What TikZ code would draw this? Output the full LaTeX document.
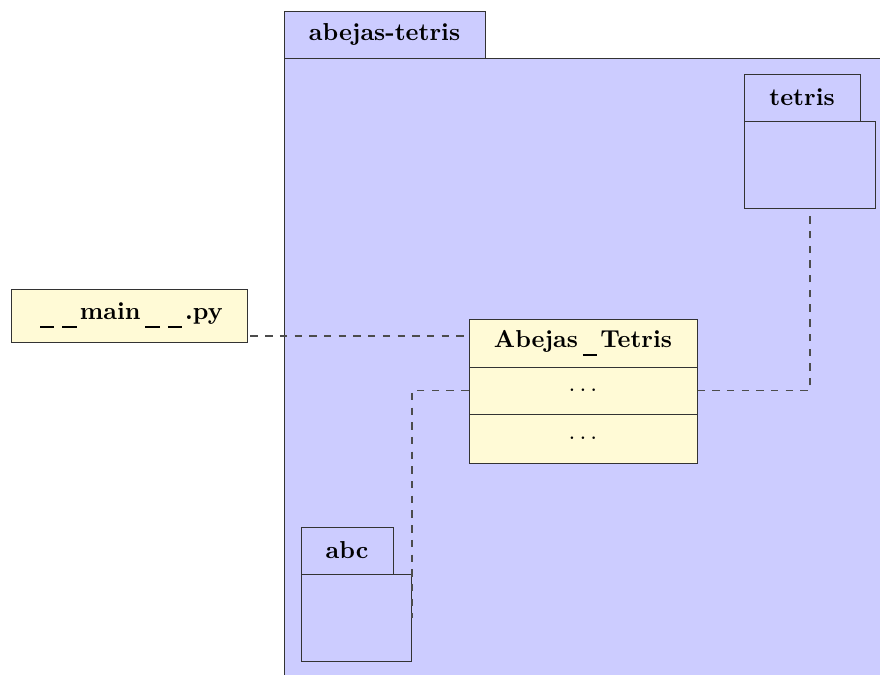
\documentclass[tikz,border=0pt]{standalone}
\usetikzlibrary{calc}
\newcommand\pxu{0.408pt}
\definecolor{classyellow}{RGB}{255,250,214}
% underscore drawn as a short low bar
\newcommand\ubar{\kern2pt\rule[-3.7pt]{5.8pt}{0.8pt}\kern1.3pt}
\tikzset{
  box/.style={draw=black!80, line width=0.4pt, rectangle, inner sep=0pt, font=\bfseries},
  pkgfill/.style={box, fill=blue!20},
  clsfill/.style={box, fill=classyellow},
  dep/.style={draw=black!70, line width=0.5pt, dashed},
}
\begin{document}
\begin{tikzpicture}[x=0.408pt, y=-0.408pt]
\useasboundingbox (0,0) rectangle (880,674);

% outer package abejas-tetris (runs past the page edge)
\node[pkgfill, anchor=north west, minimum width={640*\pxu}, minimum height={660*\pxu}] (pkgbody) at (284,58) {};
\node[pkgfill, minimum width={201*\pxu}, minimum height={47*\pxu}] (pkgtab) at (384.5,34.5) {abejas-tetris};

% sub-package tetris
\node[pkgfill, minimum width={116*\pxu}, minimum height={47*\pxu}] (tetristab) at (802,97.5) {tetris};
\node[pkgfill, anchor=north west, minimum width={131*\pxu}, minimum height={87*\pxu}] (tetrisbody) at (744,121) {};

% sub-package abc
\node[pkgfill, minimum width={92*\pxu}, minimum height={47*\pxu}] (abctab) at (347,550.5) {abc};
\node[pkgfill, anchor=north west, minimum width={110*\pxu}, minimum height={87*\pxu}] (abcbody) at (301,574) {};

% classes
\coordinate (mainout) at (247,336);
\node[clsfill, minimum width={236*\pxu}, minimum height={53*\pxu}] (main) at (129,315.5) {\ubar\ubar main\ubar\ubar.py};

\node[clsfill, minimum width={228*\pxu}, minimum height={48*\pxu}] (clshead) at (583,343) {Abejas\ubar Tetris};
\node[clsfill, minimum width={228*\pxu}, minimum height={47*\pxu}] (clsattr) at (583,390.5) {$\ldots$};
\node[clsfill, minimum width={228*\pxu}, minimum height={49*\pxu}] (clsops) at (583,438.5) {$\ldots$};

% dependencies
\draw[dep] (main.east |- mainout) ++(3,0) -- (clshead.west |- mainout);
\draw[dep] (clsattr.west) -| (abcbody.east);
\draw[dep] (clsattr.east) -| (tetrisbody.south);
\end{tikzpicture}
\end{document}
